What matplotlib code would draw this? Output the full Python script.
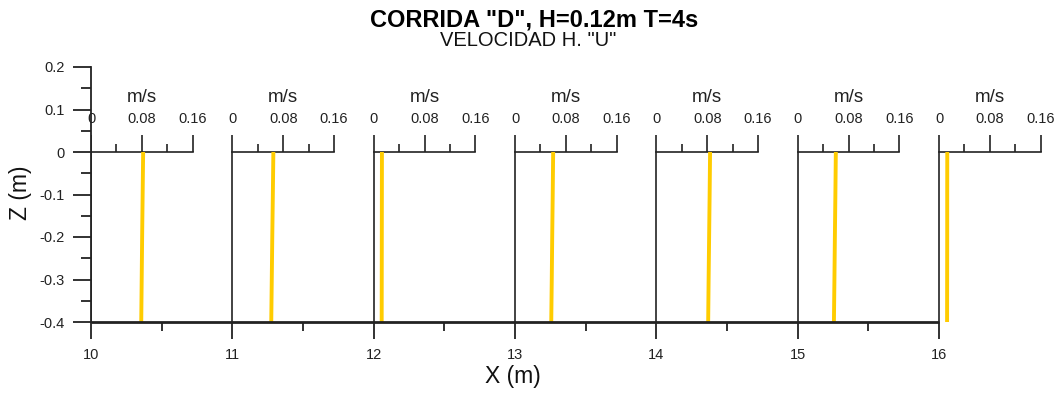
import matplotlib
matplotlib.use("Agg")
import matplotlib.pyplot as plt
import numpy as np
from matplotlib.ticker import FixedLocator, FixedFormatter

plt.rcParams['font.family'] = ['Liberation Sans', 'DejaVu Sans']

# Measurement stations along the flume (m) and depths of each profile (m)
stations = [10, 11, 12, 13, 14, 15, 16]
depths = [0.0, -0.1, -0.2, -0.3, -0.4]

# Horizontal velocity U (m/s) at each depth, one list per station
u_x10 = [0.082, 0.0812, 0.0804, 0.0797, 0.079]
u_x11 = [0.0645, 0.0637, 0.0628, 0.062, 0.0612]
u_x12 = [0.013, 0.0129, 0.0128, 0.0127, 0.0126]
u_x13 = [0.060, 0.0593, 0.0585, 0.0578, 0.057]
u_x14 = [0.0845, 0.0838, 0.083, 0.0822, 0.0815]
u_x15 = [0.060, 0.0593, 0.0585, 0.0578, 0.057]
u_x16 = [0.013, 0.0129, 0.0129, 0.0128, 0.0127]
profiles = [u_x10, u_x11, u_x12, u_x13, u_x14, u_x15, u_x16]

# Velocity scale of the small profile axes
vel_ticks = [0, 0.04, 0.08, 0.12, 0.16]
vel_labels = ['0', '', '0.08', '', '0.16']
vel_scale = 4.5  # metres of X per m/s

y_ticks = [0.2, 0.1, 0, -0.1, -0.2, -0.3, -0.4]
y_labels = ['0.2', '0.1', '0', '-0.1', '-0.2', '-0.3', '-0.4']
x_ticks = [10, 11, 12, 13, 14, 15, 16]
x_labels = ['10', '11', '12', '13', '14', '15', '16']

ink = '#222222'
yellow = '#FFCC00'

W, H = 1061, 394
fig = plt.figure(figsize=(W / 100, H / 100), dpi=100)
px_per_x = (939 - 91) / 6.0
ax = fig.add_axes([91 / W, (H - 322) / H, px_per_x * 7 / W, 255 / H])
ax.set_xlim(10, 17)
ax.set_ylim(-0.4, 0.2)

for s in ['top', 'right']:
    ax.spines[s].set_visible(False)
ax.spines['bottom'].set_bounds(10, 16)
ax.spines['left'].set_bounds(-0.4, 0.2)
ax.spines['bottom'].set_linewidth(2.0)
ax.spines['left'].set_linewidth(1.3)
ax.spines['bottom'].set_color(ink)
ax.spines['left'].set_color(ink)
ax.spines['bottom'].set_zorder(4)
ax.spines['bottom'].set_capstyle('butt')

ax.xaxis.set_major_locator(FixedLocator(x_ticks))
ax.xaxis.set_major_formatter(FixedFormatter(x_labels))
ax.xaxis.set_minor_locator(FixedLocator([10.5, 11.5, 12.5, 13.5, 14.5, 15.5]))
ax.yaxis.set_major_locator(FixedLocator(y_ticks))
ax.yaxis.set_major_formatter(FixedFormatter(y_labels))
ax.yaxis.set_minor_locator(FixedLocator([0.15, 0.05, -0.05, -0.15, -0.25, -0.35]))

ax.tick_params(axis='x', which='major', direction='out', length=12.5, width=1.3,
               color=ink, labelsize=10.5, pad=6, labelcolor=ink)
ax.tick_params(axis='x', which='minor', direction='out', length=6.5, width=1.3, color=ink)
ax.tick_params(axis='y', which='major', direction='out', length=13, width=1.3,
               color=ink, labelsize=10.5, pad=6, labelcolor=ink)
ax.tick_params(axis='y', which='minor', direction='out', length=7, width=1.3, color=ink)

major_h = 17 / 425.0
minor_h = 8 / 425.0

for st, u in zip(stations, profiles):
    # vertical reference line of the profile
    ax.plot([st, st], [0, -0.4], color=ink, lw=1.2, zorder=2, solid_capstyle='butt')
    # velocity axis at the surface
    x_end = st + vel_scale * vel_ticks[-1]
    ax.plot([st, x_end], [0, 0], color=ink, lw=1.2, zorder=2, solid_capstyle='projecting')
    for v, lab in zip(vel_ticks, vel_labels):
        xt = st + vel_scale * v
        h = major_h if lab else minor_h
        ax.plot([xt, xt], [0, h], color=ink, lw=1.2, zorder=2, solid_capstyle='butt')
        if lab:
            ax.text(xt, 0.0765, lab, ha='center', va='center', fontsize=10.5, color=ink)
    ax.text(st + vel_scale * 0.08, 0.128, 'm/s', ha='center', va='center',
            fontsize=13.5, color=ink)
    # velocity profile
    ax.plot(st + vel_scale * np.array(u), depths, color=yellow, lw=2.8, zorder=3,
            solid_capstyle='butt', clip_on=False)

fig.text(534 / W, 1 - 20 / H, 'CORRIDA "D", H=0.12m T=4s', ha='center', va='center',
         fontsize=17, fontweight='bold', color='black')
fig.text(528 / W, 1 - 41 / H, 'VELOCIDAD H. "U"', ha='center', va='center',
         fontsize=14.5, color='#111111')
fig.text(513 / W, 1 - 377 / H, 'X (m)', ha='center', va='center', fontsize=16.5, color='#111111')
fig.text(20 / W, 1 - 193 / H, 'Z (m)', ha='center', va='center', fontsize=16.5,
         rotation=90, color='#111111')

fig.savefig('out.png', dpi=100)
